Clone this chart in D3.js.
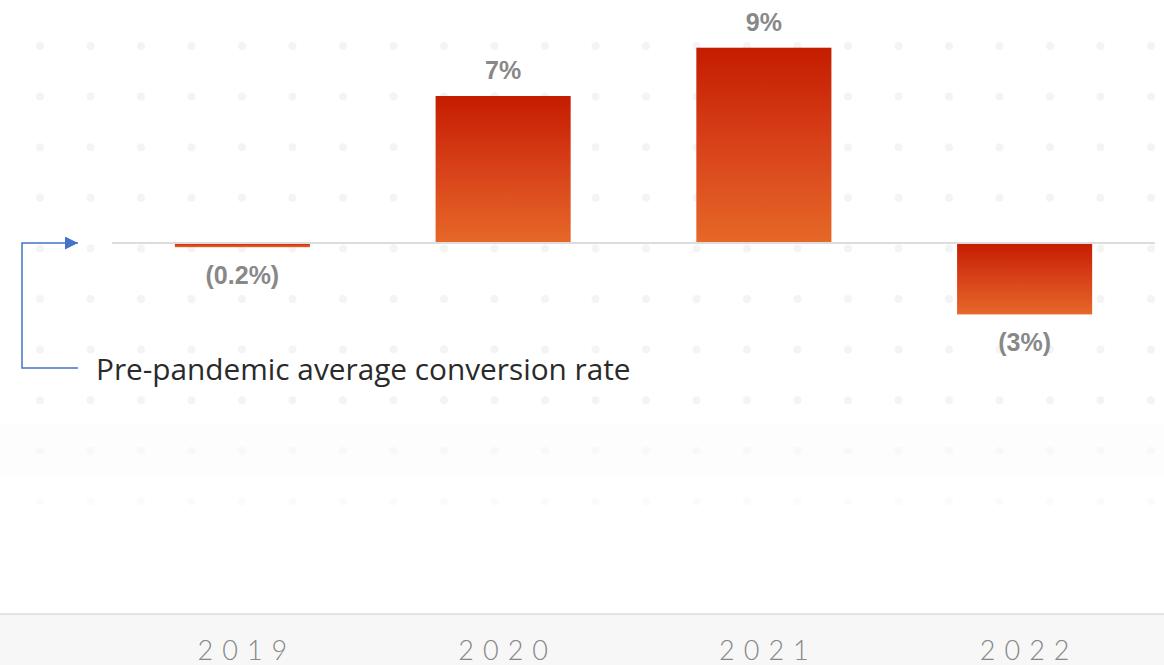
<!DOCTYPE html>
<html><head><meta charset="utf-8">
<script src="https://cdn.jsdelivr.net/npm/d3@7"></script>
<style>html,body{margin:0;padding:0;background:#fff;}svg{display:block;}</style>
</head><body>
<svg id="chart" width="1164" height="665"></svg>
<script>
const years = ["2019", "2020", "2021", "2022"];
const values = [-0.2, 7.0, 9.3, -3.4];
const valueLabels = ["(0.2%)", "7%", "9%", "(3%)"];
const annotationText = "Pre-pandemic average conversion rate";

const W = 1164, H = 665;
const svg = d3.select("#chart");
const defs = svg.append("defs");
const grad = defs.append("linearGradient").attr("id", "barGrad")
  .attr("x1", 0).attr("y1", 0).attr("x2", 0).attr("y2", 1);
grad.append("stop").attr("offset", "0%").attr("stop-color", "#c41c00");
grad.append("stop").attr("offset", "50%").attr("stop-color", "#d8421a");
grad.append("stop").attr("offset", "100%").attr("stop-color", "#e66828");
const arrow = defs.append("marker").attr("id", "arr")
  .attr("viewBox", "0 0 10 10").attr("refX", 10).attr("refY", 5)
  .attr("markerWidth", 16).attr("markerHeight", 13).attr("markerUnits", "userSpaceOnUse")
  .attr("orient", "auto");
arrow.append("path").attr("d", "M0,0L10,5L0,10Z").attr("fill", "#4474c8");

// dotted background
svg.append("rect").attr("x", 0).attr("y", 425).attr("width", W).attr("height", 52).attr("fill", "#fdfdfd");
const dotRows = d3.range(10).map(i => 46 + i * 50.6);
const dotCols = d3.range(23).map(i => 40 + i * 50.5);
const dotG = svg.append("g");
dotRows.forEach((yy, ri) => {
  dotG.selectAll(null).data(dotCols).join("circle")
    .attr("cx", d => d).attr("cy", yy).attr("r", 4)
    .attr("fill", ri < 8 ? "#f4f4f4" : (ri === 8 ? "#f8f8f8" : "#fbfbfb"));
});

// scales
const x = d3.scaleBand().domain(years).range([112, 1155]).paddingInner(0.482).paddingOuter(0.241);
const y = d3.scaleLinear().domain([-10, 10]).range([453, 33]);

// bars
svg.append("g").selectAll("rect").data(years).join("rect")
  .attr("x", d => x(d))
  .attr("width", x.bandwidth())
  .attr("y", (d, i) => y(Math.max(0, values[i])))
  .attr("height", (d, i) => Math.abs(y(values[i]) - y(0)))
  .attr("fill", "url(#barGrad)");

// baseline
svg.append("line").attr("x1", 112).attr("x2", 1155).attr("y1", y(0)).attr("y2", y(0))
  .attr("stroke", "#dcdcdc").attr("stroke-width", 2);

// value labels
svg.append("g").selectAll("text").data(years).join("text")
  .attr("x", d => x(d) + x.bandwidth() / 2)
  .attr("y", (d, i) => values[i] >= 0 ? y(values[i]) - 17 : y(values[i]) + 37)
  .attr("text-anchor", "middle")
  .attr("font-family", "Liberation Sans, Arial, sans-serif")
  .attr("font-weight", "bold").attr("font-size", 25).attr("fill", "#888888")
  .text((d, i) => valueLabels[i]);

// annotation bracket
svg.append("path").attr("d", `M78,368H22V${y(0)}H78`)
  .attr("fill", "none").attr("stroke", "#4474c8").attr("stroke-width", 1.5)
  .attr("marker-end", "url(#arr)");
const ann = svg.append("text").attr("x", 96).attr("y", 380)
  .attr("font-family", "'Open Sans', sans-serif").attr("font-size", 27)
  .attr("fill", "#2a2a2a").text(annotationText);
const annW = ann.node().getComputedTextLength();
ann.attr("font-size", 27 * 535 / annW);

// footer axis
svg.append("rect").attr("x", 0).attr("y", 614).attr("width", W).attr("height", H - 614).attr("fill", "#f7f7f7");
svg.append("line").attr("x1", 0).attr("x2", W).attr("y1", 614).attr("y2", 614).attr("stroke", "#e4e4e4").attr("stroke-width", 2);
const axis = d3.axisBottom(x).tickSize(0).tickPadding(0);
const ag = svg.append("g").attr("transform", "translate(0,660)").call(axis);
ag.select(".domain").remove();
ag.selectAll("text")
  .attr("y", 0).attr("dy", 0)
  .attr("font-family", "Lato, sans-serif").attr("font-weight", 300)
  .attr("font-size", 27).attr("fill", "#888888")
  .attr("letter-spacing", "9px").attr("dx", "4.5px");
</script>
</body></html>
